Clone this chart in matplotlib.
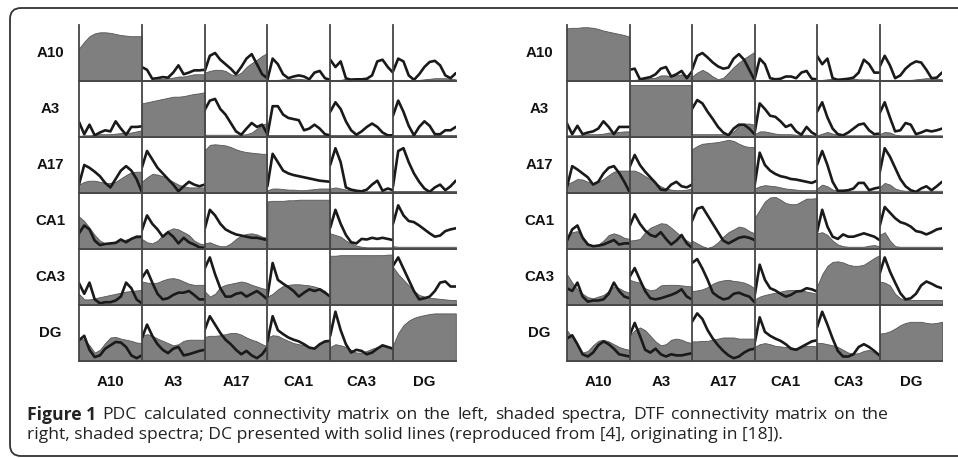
import matplotlib
matplotlib.use("Agg")
import matplotlib.pyplot as plt
from matplotlib.patches import FancyBboxPatch

# ---------------- data ----------------
regions = ["A10", "A3", "A17", "CA1", "CA3", "DG"]
freq_idx = [0, 1, 2, 3, 4, 5, 6, 7, 8, 9, 10, 11, 12]   # sample positions along frequency

# PDC matrix (left): shaded spectra per row (one list per column)
PDC_SHADE_A10 = [
    [0.58, 0.70, 0.80, 0.85, 0.87, 0.87, 0.86, 0.84, 0.82, 0.81, 0.80, 0.80, 0.80],
    [0.02, 0.02, 0.02, 0.03, 0.04, 0.05, 0.06, 0.08, 0.08, 0.10, 0.12, 0.12, 0.12],
    [0.15, 0.18, 0.20, 0.20, 0.18, 0.12, 0.10, 0.15, 0.25, 0.32, 0.38, 0.45, 0.50],
    [0.02, 0.02, 0.02, 0.03, 0.03, 0.04, 0.04, 0.03, 0.02, 0.02, 0.02, 0.02, 0.02],
    [0.02, 0.02, 0.02, 0.04, 0.05, 0.05, 0.04, 0.03, 0.02, 0.02, 0.02, 0.02, 0.02],
    [0.02, 0.02, 0.02, 0.02, 0.02, 0.02, 0.03, 0.04, 0.05, 0.05, 0.05, 0.04, 0.03],
]
PDC_SHADE_A3 = [
    [0.02, 0.03, 0.03, 0.04, 0.05, 0.05, 0.05, 0.06, 0.07, 0.07, 0.08, 0.10, 0.12],
    [0.60, 0.62, 0.64, 0.66, 0.68, 0.70, 0.72, 0.72, 0.73, 0.75, 0.77, 0.78, 0.80],
    [0.04, 0.04, 0.04, 0.04, 0.04, 0.04, 0.04, 0.04, 0.05, 0.08, 0.15, 0.22, 0.25],
    [0.03, 0.03, 0.03, 0.03, 0.03, 0.03, 0.03, 0.03, 0.03, 0.03, 0.03, 0.03, 0.03],
    [0.03, 0.03, 0.03, 0.03, 0.03, 0.03, 0.03, 0.03, 0.03, 0.03, 0.03, 0.03, 0.03],
    [0.03, 0.03, 0.03, 0.03, 0.03, 0.03, 0.03, 0.03, 0.03, 0.03, 0.03, 0.03, 0.03],
]
PDC_SHADE_A17 = [
    [0.15, 0.20, 0.22, 0.22, 0.20, 0.18, 0.18, 0.20, 0.26, 0.32, 0.37, 0.38, 0.38],
    [0.20, 0.28, 0.34, 0.33, 0.30, 0.25, 0.20, 0.15, 0.12, 0.10, 0.10, 0.10, 0.10],
    [0.76, 0.86, 0.87, 0.86, 0.85, 0.82, 0.78, 0.75, 0.73, 0.72, 0.71, 0.70, 0.70],
    [0.05, 0.08, 0.08, 0.07, 0.06, 0.06, 0.05, 0.05, 0.06, 0.07, 0.08, 0.08, 0.08],
    [0.08, 0.10, 0.08, 0.06, 0.05, 0.04, 0.03, 0.03, 0.03, 0.03, 0.03, 0.03, 0.03],
    [0.03, 0.03, 0.03, 0.03, 0.03, 0.03, 0.03, 0.03, 0.03, 0.03, 0.03, 0.03, 0.03],
]
PDC_SHADE_CA1 = [
    [0.58, 0.50, 0.38, 0.25, 0.15, 0.10, 0.10, 0.12, 0.14, 0.17, 0.20, 0.20, 0.19],
    [0.18, 0.12, 0.10, 0.15, 0.25, 0.33, 0.37, 0.35, 0.30, 0.25, 0.15, 0.10, 0.08],
    [0.10, 0.12, 0.08, 0.05, 0.05, 0.10, 0.18, 0.24, 0.27, 0.28, 0.26, 0.22, 0.20],
    [0.85, 0.86, 0.86, 0.86, 0.87, 0.87, 0.88, 0.88, 0.88, 0.88, 0.88, 0.88, 0.88],
    [0.28, 0.25, 0.22, 0.15, 0.10, 0.06, 0.04, 0.03, 0.03, 0.03, 0.03, 0.03, 0.03],
    [0.05, 0.04, 0.04, 0.04, 0.04, 0.04, 0.04, 0.04, 0.04, 0.04, 0.04, 0.04, 0.04],
]
PDC_SHADE_CA3 = [
    [0.20, 0.10, 0.10, 0.12, 0.14, 0.16, 0.18, 0.20, 0.22, 0.24, 0.25, 0.26, 0.27],
    [0.42, 0.40, 0.39, 0.40, 0.44, 0.47, 0.48, 0.46, 0.42, 0.38, 0.36, 0.36, 0.36],
    [0.25, 0.15, 0.20, 0.32, 0.36, 0.38, 0.40, 0.42, 0.40, 0.36, 0.33, 0.30, 0.28],
    [0.15, 0.20, 0.28, 0.34, 0.36, 0.37, 0.37, 0.36, 0.35, 0.33, 0.30, 0.25, 0.15],
    [0.88, 0.88, 0.89, 0.89, 0.89, 0.89, 0.89, 0.89, 0.89, 0.89, 0.89, 0.90, 0.90],
    [0.68, 0.55, 0.45, 0.35, 0.25, 0.18, 0.15, 0.13, 0.12, 0.11, 0.10, 0.09, 0.09],
]
PDC_SHADE_DG = [
    [0.42, 0.38, 0.28, 0.15, 0.20, 0.32, 0.42, 0.43, 0.40, 0.38, 0.36, 0.33, 0.32],
    [0.45, 0.48, 0.45, 0.40, 0.36, 0.32, 0.28, 0.30, 0.36, 0.38, 0.38, 0.38, 0.38],
    [0.43, 0.45, 0.45, 0.46, 0.48, 0.50, 0.50, 0.47, 0.42, 0.38, 0.35, 0.30, 0.26],
    [0.42, 0.46, 0.45, 0.40, 0.36, 0.32, 0.30, 0.28, 0.25, 0.25, 0.30, 0.35, 0.36],
    [0.25, 0.30, 0.28, 0.25, 0.20, 0.15, 0.15, 0.18, 0.22, 0.25, 0.28, 0.25, 0.22],
    [0.28, 0.50, 0.64, 0.72, 0.77, 0.80, 0.82, 0.84, 0.85, 0.85, 0.85, 0.85, 0.85],
]

# PDC matrix (left): DC solid lines (None on the diagonal)
PDC_LINE_A10 = [
    None,
    [0.25, 0.20, 0.04, 0.05, 0.07, 0.06, 0.15, 0.28, 0.12, 0.15, 0.19, 0.19, 0.20],
    [0.17, 0.45, 0.50, 0.38, 0.30, 0.22, 0.12, 0.25, 0.40, 0.48, 0.30, 0.12, 0.05],
    [0.02, 0.40, 0.30, 0.12, 0.05, 0.08, 0.10, 0.08, 0.03, 0.15, 0.18, 0.05, 0.02],
    [0.38, 0.25, 0.35, 0.05, 0.02, 0.03, 0.03, 0.04, 0.10, 0.35, 0.38, 0.25, 0.15],
    [0.17, 0.40, 0.35, 0.10, 0.02, 0.12, 0.25, 0.34, 0.36, 0.28, 0.10, 0.05, 0.14],
]
PDC_LINE_A3 = [
    [0.27, 0.05, 0.22, 0.03, 0.08, 0.12, 0.10, 0.28, 0.15, 0.04, 0.18, 0.18, 0.19],
    None,
    [0.48, 0.65, 0.68, 0.50, 0.40, 0.25, 0.10, 0.04, 0.15, 0.25, 0.18, 0.22, 0.05],
    [0.03, 0.55, 0.55, 0.40, 0.34, 0.32, 0.30, 0.12, 0.15, 0.22, 0.15, 0.05, 0.03],
    [0.45, 0.62, 0.50, 0.28, 0.12, 0.04, 0.10, 0.18, 0.24, 0.18, 0.08, 0.03, 0.03],
    [0.38, 0.65, 0.45, 0.20, 0.03, 0.18, 0.28, 0.20, 0.05, 0.05, 0.12, 0.12, 0.18],
]
PDC_LINE_A17 = [
    [0.15, 0.50, 0.45, 0.38, 0.30, 0.18, 0.10, 0.25, 0.40, 0.48, 0.40, 0.25, 0.02],
    [0.45, 0.75, 0.60, 0.45, 0.35, 0.25, 0.15, 0.03, 0.12, 0.20, 0.15, 0.12, 0.15],
    None,
    [0.12, 0.70, 0.55, 0.40, 0.35, 0.32, 0.30, 0.28, 0.26, 0.24, 0.22, 0.21, 0.20],
    [0.50, 0.80, 0.55, 0.10, 0.06, 0.04, 0.03, 0.06, 0.15, 0.22, 0.04, 0.08, 0.05],
    [0.12, 0.75, 0.80, 0.55, 0.35, 0.20, 0.08, 0.02, 0.10, 0.15, 0.05, 0.12, 0.22],
]
PDC_LINE_CA1 = [
    [0.28, 0.42, 0.35, 0.15, 0.07, 0.09, 0.10, 0.11, 0.17, 0.12, 0.18, 0.22, 0.22],
    [0.33, 0.60, 0.45, 0.35, 0.22, 0.30, 0.22, 0.10, 0.20, 0.12, 0.08, 0.03, 0.02],
    [0.35, 0.70, 0.60, 0.45, 0.35, 0.30, 0.26, 0.24, 0.22, 0.20, 0.20, 0.18, 0.16],
    None,
    [0.38, 0.70, 0.45, 0.25, 0.12, 0.10, 0.18, 0.17, 0.20, 0.18, 0.20, 0.18, 0.16],
    [0.45, 0.78, 0.60, 0.50, 0.48, 0.42, 0.35, 0.28, 0.22, 0.24, 0.32, 0.35, 0.37],
]
PDC_LINE_CA3 = [
    [0.39, 0.20, 0.40, 0.10, 0.03, 0.05, 0.05, 0.08, 0.15, 0.40, 0.30, 0.10, 0.03],
    [0.48, 0.62, 0.40, 0.20, 0.10, 0.12, 0.18, 0.22, 0.22, 0.25, 0.18, 0.10, 0.10],
    [0.65, 0.85, 0.55, 0.30, 0.15, 0.15, 0.20, 0.22, 0.15, 0.20, 0.25, 0.18, 0.10],
    [0.15, 0.75, 0.45, 0.38, 0.32, 0.25, 0.15, 0.22, 0.28, 0.25, 0.28, 0.22, 0.15],
    None,
    [0.70, 0.85, 0.65, 0.45, 0.25, 0.10, 0.12, 0.15, 0.25, 0.40, 0.42, 0.33, 0.33],
]
PDC_LINE_DG = [
    [0.37, 0.45, 0.20, 0.07, 0.10, 0.22, 0.28, 0.34, 0.33, 0.25, 0.10, 0.05, 0.10],
    [0.40, 0.65, 0.45, 0.30, 0.20, 0.14, 0.22, 0.25, 0.10, 0.12, 0.15, 0.18, 0.20],
    [0.55, 0.80, 0.65, 0.50, 0.38, 0.30, 0.20, 0.12, 0.18, 0.10, 0.05, 0.12, 0.25],
    [0.35, 0.80, 0.55, 0.48, 0.42, 0.38, 0.35, 0.30, 0.24, 0.22, 0.30, 0.35, 0.36],
    [0.45, 0.88, 0.55, 0.30, 0.15, 0.20, 0.18, 0.12, 0.15, 0.22, 0.28, 0.25, 0.22],
    None,
]

# DTF matrix (right): shaded spectra
DTF_SHADE_A10 = [
    [0.94, 0.95, 0.95, 0.96, 0.96, 0.95, 0.93, 0.90, 0.88, 0.86, 0.84, 0.82, 0.79],
    [0.02, 0.02, 0.03, 0.04, 0.05, 0.06, 0.10, 0.10, 0.08, 0.10, 0.12, 0.10, 0.08],
    [0.08, 0.15, 0.20, 0.15, 0.08, 0.03, 0.06, 0.15, 0.25, 0.33, 0.40, 0.46, 0.52],
    [0.02, 0.02, 0.02, 0.02, 0.02, 0.02, 0.02, 0.02, 0.02, 0.02, 0.02, 0.02, 0.02],
    [0.02, 0.02, 0.03, 0.04, 0.04, 0.04, 0.04, 0.04, 0.03, 0.03, 0.03, 0.02, 0.02],
    [0.02, 0.02, 0.02, 0.02, 0.02, 0.02, 0.02, 0.03, 0.04, 0.05, 0.05, 0.04, 0.03],
]
DTF_SHADE_A3 = [
    [0.03, 0.03, 0.03, 0.04, 0.05, 0.05, 0.05, 0.06, 0.08, 0.08, 0.09, 0.10, 0.10],
    [0.92, 0.92, 0.92, 0.92, 0.92, 0.92, 0.92, 0.92, 0.92, 0.92, 0.92, 0.92, 0.92],
    [0.05, 0.05, 0.05, 0.05, 0.05, 0.05, 0.05, 0.06, 0.10, 0.20, 0.24, 0.24, 0.22],
    [0.05, 0.10, 0.10, 0.08, 0.06, 0.05, 0.05, 0.05, 0.04, 0.04, 0.04, 0.03, 0.03],
    [0.03, 0.06, 0.09, 0.06, 0.04, 0.03, 0.03, 0.03, 0.03, 0.03, 0.03, 0.03, 0.03],
    [0.05, 0.09, 0.08, 0.04, 0.03, 0.03, 0.03, 0.03, 0.03, 0.03, 0.03, 0.03, 0.03],
]
DTF_SHADE_A17 = [
    [0.16, 0.20, 0.25, 0.24, 0.20, 0.18, 0.20, 0.25, 0.32, 0.38, 0.40, 0.40, 0.40],
    [0.40, 0.40, 0.36, 0.30, 0.25, 0.18, 0.12, 0.08, 0.06, 0.05, 0.05, 0.06, 0.08],
    [0.78, 0.84, 0.88, 0.89, 0.90, 0.91, 0.93, 0.95, 0.93, 0.88, 0.84, 0.82, 0.82],
    [0.08, 0.12, 0.14, 0.13, 0.12, 0.10, 0.08, 0.07, 0.06, 0.05, 0.05, 0.05, 0.05],
    [0.08, 0.15, 0.12, 0.06, 0.04, 0.04, 0.04, 0.04, 0.04, 0.04, 0.04, 0.04, 0.04],
    [0.10, 0.18, 0.15, 0.08, 0.05, 0.04, 0.04, 0.04, 0.04, 0.04, 0.04, 0.04, 0.04],
]
DTF_SHADE_CA1 = [
    [0.22, 0.30, 0.32, 0.22, 0.10, 0.06, 0.08, 0.15, 0.25, 0.28, 0.25, 0.20, 0.18],
    [0.15, 0.16, 0.18, 0.30, 0.38, 0.42, 0.46, 0.45, 0.38, 0.30, 0.22, 0.15, 0.10],
    [0.15, 0.10, 0.05, 0.02, 0.05, 0.12, 0.22, 0.30, 0.35, 0.40, 0.38, 0.32, 0.28],
    [0.55, 0.70, 0.85, 0.92, 0.93, 0.88, 0.82, 0.80, 0.80, 0.85, 0.90, 0.90, 0.91],
    [0.28, 0.30, 0.25, 0.15, 0.08, 0.05, 0.04, 0.04, 0.04, 0.04, 0.06, 0.07, 0.05],
    [0.25, 0.30, 0.15, 0.05, 0.04, 0.04, 0.04, 0.04, 0.04, 0.04, 0.04, 0.04, 0.04],
]
DTF_SHADE_CA3 = [
    [0.55, 0.40, 0.28, 0.20, 0.14, 0.12, 0.15, 0.18, 0.25, 0.33, 0.30, 0.25, 0.22],
    [0.45, 0.42, 0.40, 0.30, 0.26, 0.28, 0.35, 0.36, 0.36, 0.36, 0.35, 0.34, 0.33],
    [0.25, 0.26, 0.28, 0.32, 0.38, 0.42, 0.44, 0.45, 0.43, 0.42, 0.40, 0.36, 0.30],
    [0.10, 0.15, 0.18, 0.20, 0.22, 0.24, 0.26, 0.27, 0.27, 0.26, 0.24, 0.22, 0.20],
    [0.33, 0.55, 0.70, 0.77, 0.78, 0.76, 0.72, 0.70, 0.70, 0.72, 0.78, 0.84, 0.89],
    [0.42, 0.40, 0.35, 0.20, 0.12, 0.09, 0.09, 0.09, 0.09, 0.09, 0.09, 0.09, 0.09],
]
DTF_SHADE_DG = [
    [0.55, 0.42, 0.30, 0.15, 0.18, 0.28, 0.36, 0.38, 0.35, 0.30, 0.25, 0.22, 0.20],
    [0.45, 0.55, 0.60, 0.55, 0.45, 0.35, 0.28, 0.30, 0.38, 0.40, 0.38, 0.34, 0.32],
    [0.35, 0.35, 0.36, 0.36, 0.38, 0.40, 0.42, 0.42, 0.42, 0.40, 0.40, 0.40, 0.40],
    [0.25, 0.30, 0.32, 0.30, 0.27, 0.26, 0.25, 0.24, 0.23, 0.25, 0.27, 0.27, 0.26],
    [0.32, 0.32, 0.30, 0.28, 0.25, 0.20, 0.15, 0.13, 0.14, 0.18, 0.20, 0.15, 0.08],
    [0.49, 0.50, 0.53, 0.58, 0.64, 0.68, 0.70, 0.70, 0.70, 0.68, 0.67, 0.68, 0.70],
]

# DTF matrix (right): DC solid lines
DTF_LINE_A10 = [
    None,
    [0.20, 0.22, 0.03, 0.05, 0.07, 0.12, 0.22, 0.25, 0.08, 0.12, 0.18, 0.05, 0.17],
    [0.20, 0.45, 0.50, 0.42, 0.33, 0.26, 0.22, 0.24, 0.40, 0.48, 0.38, 0.20, 0.02],
    [0.02, 0.40, 0.30, 0.05, 0.03, 0.04, 0.08, 0.08, 0.05, 0.15, 0.18, 0.04, 0.03],
    [0.45, 0.30, 0.40, 0.05, 0.02, 0.03, 0.04, 0.06, 0.15, 0.38, 0.30, 0.15, 0.15],
    [0.25, 0.45, 0.28, 0.05, 0.10, 0.22, 0.30, 0.35, 0.33, 0.20, 0.05, 0.06, 0.15],
]
DTF_LINE_A3 = [
    [0.24, 0.05, 0.20, 0.05, 0.08, 0.10, 0.15, 0.28, 0.18, 0.05, 0.18, 0.18, 0.18],
    None,
    [0.50, 0.66, 0.60, 0.45, 0.32, 0.18, 0.08, 0.03, 0.15, 0.22, 0.22, 0.15, 0.05],
    [0.06, 0.60, 0.50, 0.38, 0.36, 0.28, 0.18, 0.22, 0.10, 0.04, 0.18, 0.08, 0.03],
    [0.45, 0.62, 0.35, 0.15, 0.05, 0.03, 0.08, 0.15, 0.22, 0.24, 0.12, 0.05, 0.06],
    [0.42, 0.62, 0.35, 0.10, 0.12, 0.25, 0.22, 0.05, 0.08, 0.12, 0.10, 0.12, 0.15],
]
DTF_LINE_A17 = [
    [0.11, 0.48, 0.42, 0.35, 0.28, 0.15, 0.20, 0.35, 0.45, 0.48, 0.36, 0.20, 0.02],
    [0.46, 0.68, 0.50, 0.38, 0.28, 0.18, 0.06, 0.05, 0.15, 0.20, 0.12, 0.10, 0.15],
    None,
    [0.12, 0.72, 0.50, 0.40, 0.34, 0.30, 0.28, 0.25, 0.24, 0.22, 0.20, 0.18, 0.22],
    [0.50, 0.75, 0.50, 0.20, 0.04, 0.04, 0.05, 0.08, 0.18, 0.18, 0.05, 0.08, 0.10],
    [0.35, 0.80, 0.65, 0.45, 0.25, 0.12, 0.05, 0.02, 0.08, 0.12, 0.05, 0.12, 0.20],
]
DTF_LINE_CA1 = [
    [0.15, 0.35, 0.42, 0.20, 0.08, 0.05, 0.06, 0.08, 0.12, 0.16, 0.08, 0.10, 0.10],
    [0.40, 0.62, 0.45, 0.33, 0.25, 0.22, 0.30, 0.18, 0.08, 0.15, 0.25, 0.10, 0.02],
    [0.50, 0.72, 0.75, 0.60, 0.45, 0.30, 0.15, 0.10, 0.15, 0.20, 0.22, 0.20, 0.16],
    None,
    [0.30, 0.70, 0.40, 0.22, 0.18, 0.26, 0.22, 0.22, 0.25, 0.28, 0.25, 0.22, 0.16],
    [0.40, 0.75, 0.65, 0.55, 0.48, 0.45, 0.40, 0.32, 0.30, 0.26, 0.30, 0.35, 0.37],
]
DTF_LINE_CA3 = [
    [0.30, 0.25, 0.40, 0.15, 0.06, 0.08, 0.08, 0.10, 0.20, 0.40, 0.25, 0.15, 0.12],
    [0.50, 0.66, 0.45, 0.25, 0.12, 0.10, 0.12, 0.15, 0.18, 0.22, 0.28, 0.15, 0.10],
    [0.75, 0.82, 0.65, 0.45, 0.22, 0.15, 0.10, 0.12, 0.20, 0.22, 0.18, 0.15, 0.05],
    [0.15, 0.72, 0.45, 0.30, 0.26, 0.20, 0.15, 0.18, 0.24, 0.25, 0.30, 0.28, 0.24],
    None,
    [0.55, 0.85, 0.60, 0.40, 0.21, 0.10, 0.12, 0.20, 0.35, 0.42, 0.38, 0.33, 0.30],
]
DTF_LINE_DG = [
    [0.40, 0.46, 0.30, 0.12, 0.08, 0.15, 0.28, 0.35, 0.30, 0.22, 0.12, 0.10, 0.08],
    [0.45, 0.68, 0.45, 0.20, 0.15, 0.22, 0.12, 0.08, 0.12, 0.10, 0.10, 0.12, 0.14],
    [0.70, 0.85, 0.75, 0.55, 0.40, 0.28, 0.18, 0.10, 0.05, 0.08, 0.15, 0.20, 0.22],
    [0.30, 0.78, 0.52, 0.45, 0.40, 0.36, 0.30, 0.22, 0.20, 0.25, 0.30, 0.35, 0.37],
    [0.60, 0.88, 0.65, 0.40, 0.18, 0.08, 0.08, 0.12, 0.25, 0.30, 0.25, 0.18, 0.10],
    None,
]

PDC_SHADE = [PDC_SHADE_A10, PDC_SHADE_A3, PDC_SHADE_A17, PDC_SHADE_CA1, PDC_SHADE_CA3, PDC_SHADE_DG]
PDC_LINE = [PDC_LINE_A10, PDC_LINE_A3, PDC_LINE_A17, PDC_LINE_CA1, PDC_LINE_CA3, PDC_LINE_DG]
DTF_SHADE = [DTF_SHADE_A10, DTF_SHADE_A3, DTF_SHADE_A17, DTF_SHADE_CA1, DTF_SHADE_CA3, DTF_SHADE_DG]
DTF_LINE = [DTF_LINE_A10, DTF_LINE_A3, DTF_LINE_A17, DTF_LINE_CA1, DTF_LINE_CA3, DTF_LINE_DG]

CAPTION_BOLD = "Figure 1"
CAPTION_LINE1 = "PDC calculated connectivity matrix on the left, shaded spectra, DTF connectivity matrix on the"
CAPTION_LINE2 = "right, shaded spectra; DC presented with solid lines (reproduced from [4], originating in [18])."

# ---------------- layout / style ----------------
W, H = 958, 458
ROW_TOP0, ROW_H = 25, 56
MATRICES = [
    dict(x0=79, cw=62.8, label_x=50, shade=PDC_SHADE, line=PDC_LINE),
    dict(x0=567, cw=62.5, label_x=539, shade=DTF_SHADE, line=DTF_LINE),
]
FILL_C = "#7f7f7f"
FILL_EDGE = "#555555"
LINE_C = "#1a1a1a"
GRID_C = "#454545"
LABEL_FONT = dict(family=["Liberation Sans", "DejaVu Sans"], weight="bold", size=10.8, color="#111111")

fig = plt.figure(figsize=(W / 100, H / 100), dpi=100)
fig.patch.set_facecolor("white")

# background frame axis in pixel units
bg = fig.add_axes([0, 0, 1, 1])
bg.set_xlim(0, W)
bg.set_ylim(H, 0)
bg.axis("off")
frame = FancyBboxPatch((10, 8), 975, 448, boxstyle="round,pad=0,rounding_size=11",
                       fc="none", ec="#333333", lw=1.3, transform=bg.transData)
bg.add_patch(frame)

for m in MATRICES:
    for i in range(6):
        top = ROW_TOP0 + i * ROW_H
        for j in range(6):
            left = m["x0"] + j * m["cw"]
            ax = fig.add_axes([left / W, 1 - (top + ROW_H) / H, m["cw"] / W, ROW_H / H])
            ax.set_xlim(freq_idx[0], freq_idx[-1])
            ax.set_ylim(0, 1)
            ax.patch.set_alpha(0)
            ax.set_xticks([])
            ax.set_yticks([])
            for s in ("top", "right"):
                ax.spines[s].set_visible(False)
            for s in ("left", "bottom"):
                ax.spines[s].set_color(GRID_C)
                ax.spines[s].set_linewidth(1.3)
                ax.spines[s].set_zorder(5)
            ax.fill_between(freq_idx, 0, m["shade"][i][j], color=FILL_C,
                            edgecolor=FILL_EDGE, linewidth=0.6, zorder=1)
            ln = m["line"][i][j]
            if ln is not None:
                ax.plot(freq_idx, ln, color=LINE_C, lw=1.9, zorder=3,
                        solid_joinstyle="round", solid_capstyle="round")
        # row label
        fig.text(m["label_x"] / W, 1 - (top + ROW_H / 2) / H, regions[i],
                 ha="center", va="center", **LABEL_FONT)
    for j in range(6):
        cx = m["x0"] + (j + 0.5) * m["cw"]
        fig.text(cx / W, 1 - 382 / H, regions[j], ha="center", va="center", **LABEL_FONT)

# caption: first line justified between x=27 and x=889, second line left aligned
cap_font = ["Open Sans", "DejaVu Sans"]
cap_size = 12.6
cap_color = "#222222"
CAP_LEFT, CAP_RIGHT = 27, 889
fig.canvas.draw()
r = fig.canvas.get_renderer()

words = [(CAPTION_BOLD, "bold")] + [(w, "normal") for w in CAPTION_LINE1.split(" ")]
texts = []
for w, wt in words:
    t = fig.text(0, 1 - 415 / H, w, ha="left", va="center", family=cap_font,
                 weight=wt, size=cap_size, color=cap_color)
    texts.append(t)
widths = [t.get_window_extent(r).width for t in texts]
gap = (CAP_RIGHT - CAP_LEFT - sum(widths)) / (len(texts) - 1)
x = CAP_LEFT
for t, wd in zip(texts, widths):
    t.set_x(x / W)
    x += wd + gap

fig.text(CAP_LEFT / W, 1 - 435 / H, CAPTION_LINE2, ha="left", va="center",
         family=cap_font, size=cap_size, color=cap_color)

fig.savefig("out.png", dpi=100)
